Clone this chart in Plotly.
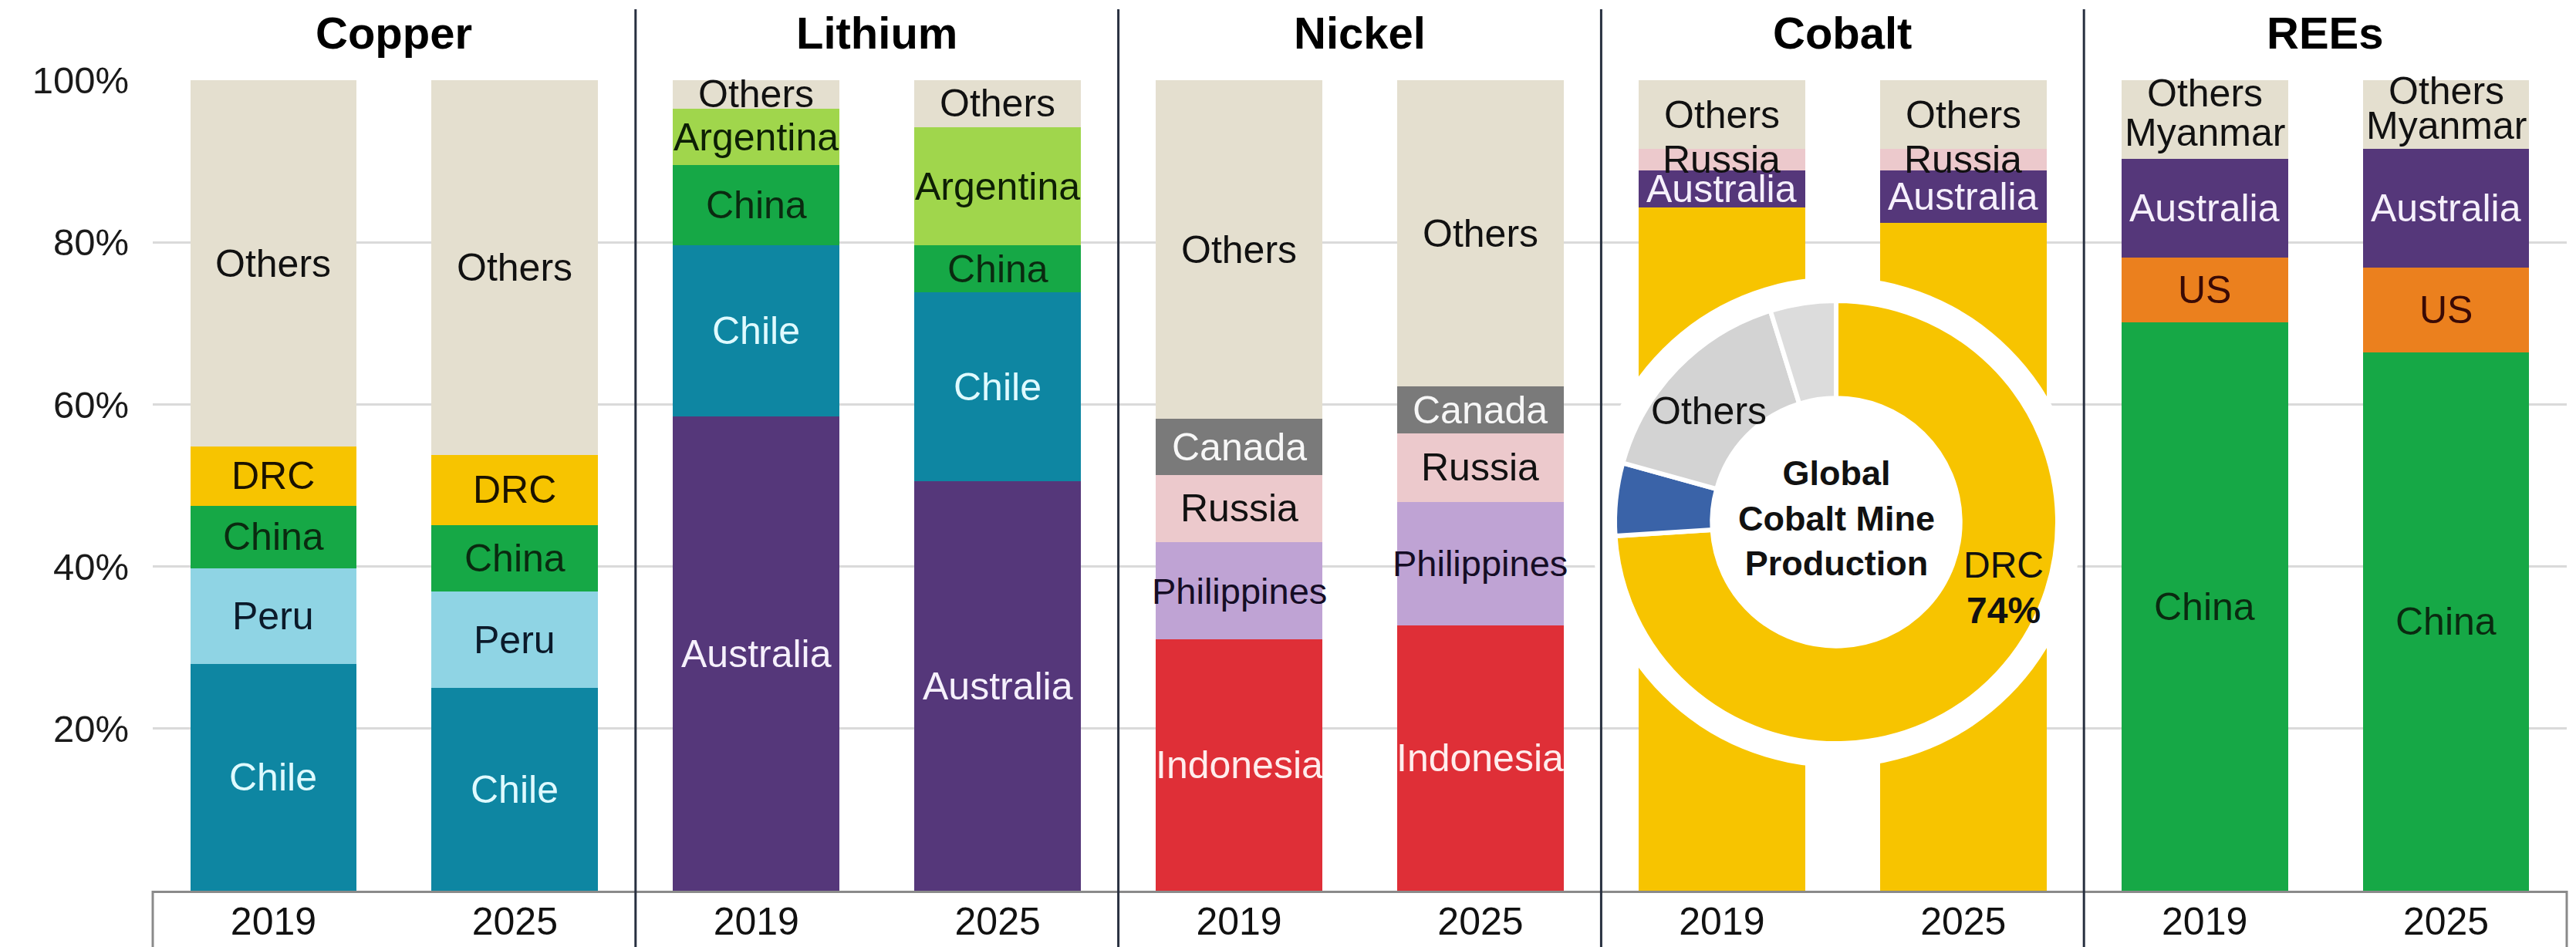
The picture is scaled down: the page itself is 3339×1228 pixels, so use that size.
import plotly.graph_objects as go
from plotly.subplots import make_subplots

# ---------------- data ----------------
minerals = ["Copper", "Lithium", "Nickel", "Cobalt", "REEs"]
years = ["2019", "2025"]

# stacking order bottom -> top, share of mine production (%)
copper_countries = ["Chile", "Peru", "China", "DRC", "Others"]
copper_2019 = [28.0, 11.8, 7.7, 7.3, 45.2]
copper_2025 = [25.0, 11.9, 8.2, 8.7, 46.2]

lithium_countries = ["Australia", "Chile", "China", "Argentina", "Others"]
lithium_2019 = [58.5, 21.1, 9.9, 7.0, 3.5]
lithium_2025 = [50.5, 23.3, 5.8, 14.6, 5.8]

nickel_countries = ["Indonesia", "Philippines", "Russia", "Canada", "Others"]
nickel_2019 = [31.0, 12.0, 8.3, 6.9, 41.8]
nickel_2025 = [32.7, 15.3, 8.4, 5.8, 37.8]

cobalt_countries = ["DRC", "Australia", "Russia", "Others"]
cobalt_2019 = [84.3, 4.6, 2.6, 8.5]
cobalt_2025 = [82.4, 6.5, 2.6, 8.5]

rees_countries = ["China", "US", "Australia", "Myanmar", "Others"]
rees_2019 = [70.1, 8.0, 12.2, 6.4, 3.3]
rees_2025 = [66.4, 10.5, 14.6, 5.8, 2.7]

# global cobalt mine production donut
donut_labels = ["DRC", "Unlabelled (blue)", "Others", "Unlabelled (grey)"]
donut_values = [74.0, 5.3, 15.9, 4.8]
donut_center_text = "Global<br>Cobalt Mine<br>Production"

y_tick_vals = [20, 40, 60, 80, 100]
y_tick_text = ["20%", "40%", "60%", "80%", "100%"]

# ---------------- styles ----------------
FONT = "Liberation Sans, Arial, Helvetica, sans-serif"
fill = {
    "Others": "#e4dfcf", "DRC": "#f7c400", "China": "#16a846", "Peru": "#8fd4e4",
    "Chile": "#0e86a2", "Australia": "#55377a", "Argentina": "#a0d64c",
    "Canada": "#7a7a7a", "Russia": "#ecc9cc", "Philippines": "#bfa3d4",
    "Indonesia": "#df2f37", "US": "#eb801e", "Myanmar": "#e4dfcf",
}
text_col = {
    "Others": "#111111", "DRC": "#1a1200", "China": "#0a2a10", "Peru": "#0b1a2a",
    "Chile": "#dffaff", "Australia": "#f6f0fc", "Argentina": "#0d1f05",
    "Canada": "#f7f7f7", "Russia": "#111111", "Philippines": "#150d25",
    "Indonesia": "#ffeded", "US": "#3a0a05", "Myanmar": "#111111",
}
hidden_labels = {("Cobalt", "DRC")}
donut_colors = ["#f7c400", "#3a63a8", "#d3d3d3", "#dcdcdc"]

panels = [
    ("Copper", copper_countries, copper_2019, copper_2025),
    ("Lithium", lithium_countries, lithium_2019, lithium_2025),
    ("Nickel", nickel_countries, nickel_2019, nickel_2025),
    ("Cobalt", cobalt_countries, cobalt_2019, cobalt_2025),
    ("REEs", rees_countries, rees_2019, rees_2025),
]

W, H = 3339, 1228
ML, MR, MT, MB = 198, 12, 104, 73
PW, PH = W - ML - MR, H - MT - MB

fig = make_subplots(rows=1, cols=5, shared_yaxes=True, horizontal_spacing=0)

annotations = []
for i, (name, countries, v19, v25) in enumerate(panels, start=1):
    cum = [0.0, 0.0]
    xr = f"x{i}" if i > 1 else "x"
    yr_ = f"y{i}" if i > 1 else "y"
    for c, a, b in zip(countries, v19, v25):
        fig.add_trace(
            go.Bar(x=years, y=[a, b], name=c, marker=dict(color=fill[c], line=dict(width=0)),
                   hoverinfo="name+y", showlegend=False),
            row=1, col=i,
        )
        if (name, c) not in hidden_labels:
            for k, val in enumerate([a, b]):
                annotations.append(dict(
                    x=k, y=cum[k] + val / 2, xref=xr, yref=yr_, text=c, showarrow=False,
                    font=dict(family=FONT, size=50 if c != "Philippines" else 47, color=text_col[c]),
                    xanchor="center", yanchor="middle",
                ))
        cum = [cum[0] + a, cum[1] + b]
    # panel title
    annotations.append(dict(
        x=(i - 0.5) / 5, y=1 + (MT - 42) / PH, xref="paper", yref="paper",
        text=f"<b>{name}</b>", showarrow=False,
        font=dict(family=FONT, size=58, color="#000000"), xanchor="center", yanchor="middle",
    ))

# donut (paper-domain geometry, relative to the plot area)
cx_px, cy_px = 2380, 677
r_px, ring_px = 287, 318
cx = (cx_px - ML) / PW
cy = 1 - (cy_px - MT) / PH


def dom(r):
    return dict(x=[cx - r / PW, cx + r / PW], y=[cy - r / PH, cy + r / PH])


fig.add_trace(go.Pie(values=[1], labels=["bg"], marker=dict(colors=["#ffffff"], line=dict(width=0)),
                     domain=dom(ring_px), textinfo="none", hoverinfo="skip", sort=False,
                     showlegend=False))
fig.add_trace(go.Pie(values=donut_values, labels=donut_labels, hole=0.56,
                     marker=dict(colors=donut_colors, line=dict(color="#ffffff", width=6)),
                     domain=dom(r_px), direction="clockwise", rotation=0, sort=False,
                     textinfo="none", hoverinfo="label+percent", showlegend=False))


def paper_xy(px, py):
    return (px - ML) / PW, 1 - (py - MT) / PH


for txt, (px, py), size in [
    (f"<b>{donut_center_text}</b>", (2380, 672), 45),
    (donut_labels[2], (2215, 533), 50),
    (donut_labels[0], (2597, 732), 48),
    (f"<b>{donut_values[0]:.0f}%</b>", (2597, 791), 48),
]:
    x, y = paper_xy(px, py)
    annotations.append(dict(x=x, y=y, xref="paper", yref="paper", text=txt, showarrow=False,
                            font=dict(family=FONT, size=size, color="#111111"),
                            xanchor="center", yanchor="middle"))

shapes = []
# dark separators between panels
for k in range(1, 5):
    shapes.append(dict(type="line", xref="paper", yref="paper", x0=k / 5, x1=k / 5,
                       y0=-MB / PH, y1=1 + (MT - 12) / PH,
                       line=dict(color="#283040", width=3), layer="above"))
# box around category label area
for xx in (0, 1):
    shapes.append(dict(type="line", xref="paper", yref="paper", x0=xx, x1=xx,
                       y0=-MB / PH, y1=0, line=dict(color="#8a8a8a", width=3), layer="above"))

fig.update_layout(
    width=W, height=H, margin=dict(l=ML, r=MR, t=MT, b=MB, autoexpand=False),
    paper_bgcolor="#ffffff", plot_bgcolor="#ffffff",
    barmode="stack", bargap=0.31, showlegend=False,
    font=dict(family=FONT, color="#111111"),
    annotations=annotations, shapes=shapes,
)
fig.update_yaxes(range=[0, 100], tickvals=y_tick_vals, ticktext=y_tick_text,
                 showgrid=True, gridcolor="#dadada", gridwidth=3, zeroline=False,
                 showline=False, ticks="", fixedrange=True, automargin=False,
                 tickfont=dict(family=FONT, size=49, color="#1a1a1a"))
fig.update_yaxes(ticklabelstandoff=30, row=1, col=1)
fig.update_xaxes(type="category", categoryorder="array", categoryarray=years,
                 range=[-0.5, 1.5], autorange=False, automargin=False,
                 showgrid=False, zeroline=False, showline=True, linecolor="#8a8a8a",
                 linewidth=3, ticks="", fixedrange=True, ticklabelstandoff=-6,
                 tickfont=dict(family=FONT, size=50, color="#111111"))

fig.write_html("out.html")
